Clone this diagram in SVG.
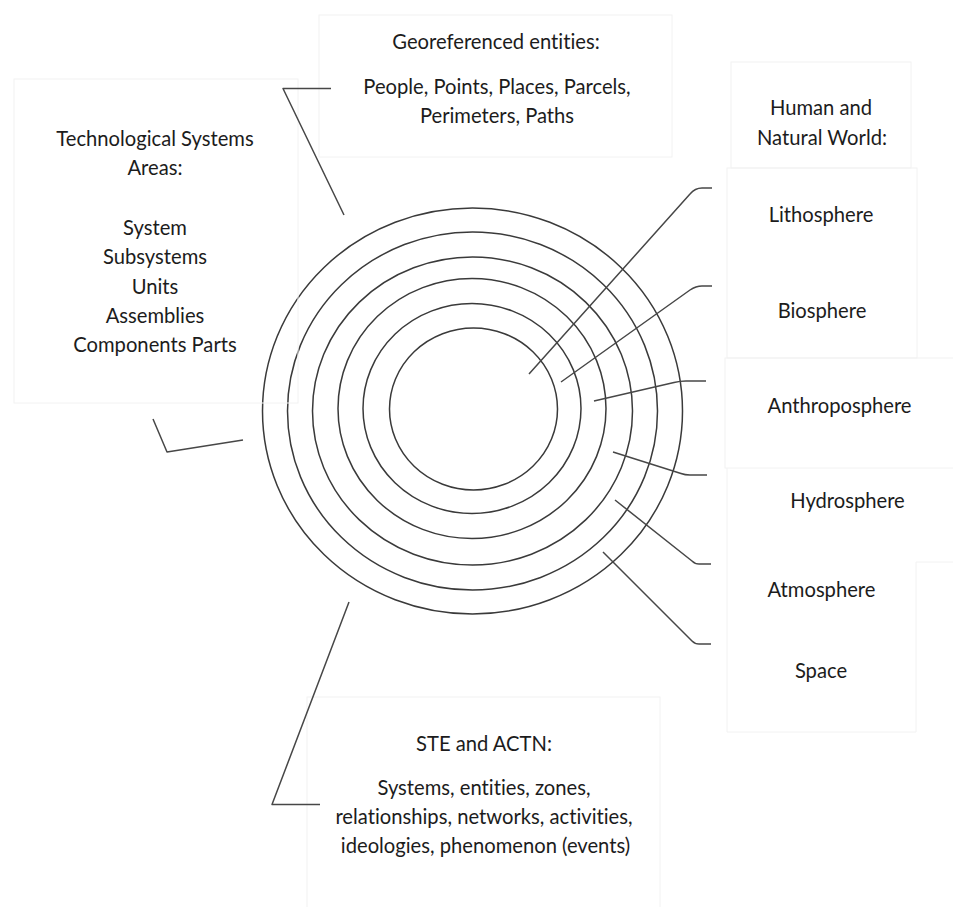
<svg xmlns="http://www.w3.org/2000/svg" width="953" height="907" viewBox="0 0 953 907">
  <style>
    .bg { fill: #ffffff; }
    .box { fill: none; stroke: #f2f2f2; stroke-width: 1; }
    .ring { fill: none; stroke: #3a3a3a; stroke-width: 1.5; }
    .link { fill: none; stroke: #474747; stroke-width: 1.5; stroke-linejoin: round; }
    .lbl { font-family: Lato, "Liberation Sans", sans-serif; font-size: 20.2px; fill: #1c1c1c; text-anchor: middle; font-variant-ligatures: none; font-feature-settings: "liga" 0, "dlig" 0; }
  </style>
  <rect class="bg" x="0" y="0" width="953" height="907"/>

  <!-- concentric spheres -->
  <g id="spheres">
    <ellipse class="ring" cx="472.5" cy="411" rx="210" ry="203"/>
    <ellipse class="ring" cx="472.5" cy="411" rx="185" ry="179"/>
    <ellipse class="ring" cx="472.5" cy="411" rx="160" ry="154"/>
    <ellipse class="ring" cx="472" cy="408.5" rx="134" ry="130"/>
    <ellipse class="ring" cx="472" cy="408.5" rx="109" ry="105"/>
    <ellipse class="ring" cx="473.5" cy="409" rx="84" ry="81"/>
  </g>

  <!-- label panels -->
  <g id="georeferenced">
    <rect class="box" x="319" y="15" width="353" height="142"/>
    <text class="lbl" x="496" y="49">Georeferenced entities:</text>
    <text class="lbl" x="497" y="94">People, Points, Places, Parcels,</text>
    <text class="lbl" x="497" y="122.5">Perimeters, Paths</text>
  </g>

  <g id="technological">
    <rect class="box" x="14" y="79" width="284" height="324"/>
    <text class="lbl" x="155" y="146">Technological Systems</text>
    <text class="lbl" x="155" y="175">Areas:</text>
    <text class="lbl" x="155" y="235">System</text>
    <text class="lbl" x="155" y="264">Subsystems</text>
    <text class="lbl" x="155" y="293.5">Units</text>
    <text class="lbl" x="155" y="322.5">Assemblies</text>
    <text class="lbl" x="155" y="352">Components Parts</text>
  </g>

  <g id="human-natural">
    <rect class="box" x="731" y="62" width="180" height="106"/>
    <text class="lbl" x="821" y="115">Human and</text>
    <text class="lbl" x="822" y="145">Natural World:</text>
  </g>

  <g id="lithosphere-biosphere">
    <rect class="box" x="727" y="168" width="190" height="190"/>
    <text class="lbl" x="821" y="221.5">Lithosphere</text>
    <text class="lbl" x="822" y="318">Biosphere</text>
  </g>

  <g id="anthroposphere">
    <rect class="box" x="725" y="358" width="240" height="110"/>
    <text class="lbl" x="839.5" y="413">Anthroposphere</text>
  </g>

  <g id="hydro-atmo-space">
    <path class="box" d="M727,468 L727,732 L916,732 L916,562 L953,562"/>
    <text class="lbl" x="847.5" y="508">Hydrosphere</text>
    <text class="lbl" x="821.5" y="596.5">Atmosphere</text>
    <text class="lbl" x="821" y="678">Space</text>
  </g>

  <g id="ste-actn">
    <rect class="box" x="307" y="697" width="353" height="215"/>
    <text class="lbl" x="484" y="750.5">STE and ACTN:</text>
    <text class="lbl" x="484" y="795">Systems, entities, zones,</text>
    <text class="lbl" x="484" y="823.5">relationships, networks, activities,</text>
    <text class="lbl" x="485.5" y="853">ideologies, phenomenon (events)</text>
  </g>

  <!-- leader lines -->
  <g id="connectors">
    <path class="link" d="M331,88.5 L283,88.5 L344,215"/>
    <path class="link" d="M153,419 L167,452 L243,440"/>
    <path class="link" d="M349,602 L272,804.5 L320,804.5"/>
    <path class="link" d="M529,374 L690,194 Q695,188 702,188 L712,188"/>
    <path class="link" d="M561,382 L690,290 Q696,286 702,286 L712,286"/>
    <path class="link" d="M594,401 L674,382.5 Q680,381 686,381 L706,381"/>
    <path class="link" d="M613,452 L681,473.5 Q685,475 690,475 L707,475"/>
    <path class="link" d="M615,500 L692,561 Q695,564 699,564 L711,564"/>
    <path class="link" d="M603,552 L692,641 Q695,644 699,644 L711,644"/>
  </g>
</svg>
